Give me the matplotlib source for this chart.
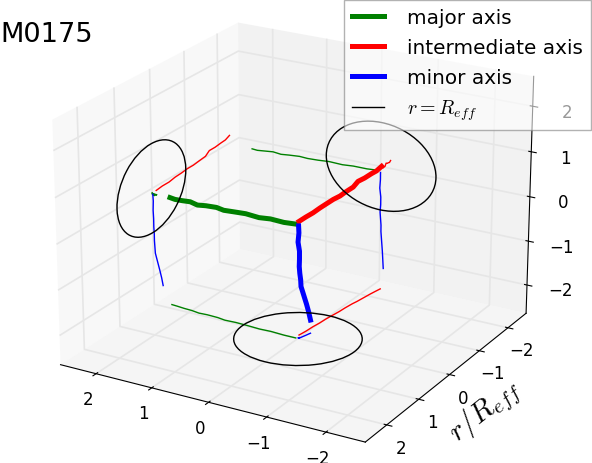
import matplotlib
matplotlib.use("Agg")
import matplotlib.pyplot as plt
from matplotlib.patches import Circle
from mpl_toolkits.mplot3d import art3d

plt.rcParams['mathtext.fontset'] = 'cm'
plt.rcParams['grid.color'] = '#e6e6e6'
plt.rcParams['grid.linewidth'] = 1.2

LIM = 2.65
R_EFF = 1.0
TICKS = [-2, -1, 0, 1, 2]

# major axis profile
major_x = [0.04, 0.25, 0.5, 0.7, 0.95, 1.15, 1.35, 1.5, 1.7, 1.85, 2.0, 2.15, 2.3, 2.4]
major_y = [0.0, 0.0, -0.02, -0.01, -0.03, -0.04, -0.03, -0.06, -0.07, -0.06, -0.09, -0.1, -0.12, -0.13]
major_z = [-0.1, -0.12, -0.12, -0.14, -0.13, -0.15, -0.16, -0.15, -0.17, -0.19, -0.17, -0.19, -0.21, -0.2]

# intermediate axis profile
inter_x = [0.05, 0.03, 0.02, 0.0, -0.01, -0.03, -0.05, -0.06, -0.08, -0.1, -0.12, -0.14, -0.16, -0.18]
inter_y = [-0.12, -0.3, -0.5, -0.68, -0.87, -1.05, -1.23, -1.4, -1.6, -1.72, -1.9, -2.08, -2.22, -2.35]
inter_z = [-0.1, -0.08, -0.08, -0.05, -0.04, -0.02, -0.02, 0.0, 0.02, 0.1, 0.1, 0.12, 0.13, 0.18]

# minor axis profile
minor_x = [0.0, 0.0, 0.01, -0.01, -0.01, 0.0, -0.01, -0.02, -0.02, -0.03, -0.04, -0.05, -0.06, -0.07]
minor_y = [-0.02, -0.03, -0.02, -0.03, -0.03, -0.04, -0.04, -0.05, -0.06, -0.1, -0.14, -0.18, -0.23, -0.27]
minor_z = [-0.14, -0.3, -0.5, -0.7, -0.88, -1.05, -1.2, -1.35, -1.5, -1.65, -1.8, -1.95, -2.15, -2.35]

profiles = [
    (major_x, major_y, major_z, 'green', 'major axis'),
    (inter_x, inter_y, inter_z, 'red', 'intermediate axis'),
    (minor_x, minor_y, minor_z, 'blue', 'minor axis'),
]

fig = plt.figure(figsize=(5.92, 4.64), dpi=100)
ax = fig.add_axes([-0.069, -0.072, 1.12, 1.16], projection='3d')
ax.view_init(elev=22, azim=120)
ax.set_box_aspect((4, 4, 3.0), zoom=1.0)

for xs, ys, zs, color, label in profiles:
    ax.plot(xs, ys, zs, color=color, lw=3.6, label=label)
    # projections on the walls
    ax.plot(xs, ys, [-LIM] * len(xs), color=color, lw=1)
    ax.plot(xs, [-LIM] * len(xs), zs, color=color, lw=1)
    ax.plot([LIM] * len(xs), ys, zs, color=color, lw=1)

# r = R_eff circles on the walls
for zdir, pos in [('z', -LIM), ('y', -LIM), ('x', LIM)]:
    circ = Circle((0, 0), R_EFF, fill=False, ec='black', lw=1)
    ax.add_patch(circ)
    art3d.pathpatch_2d_to_3d(circ, z=pos, zdir=zdir)
ax.plot([], [], [], color='black', lw=1, label=r'$r=R_{eff}$')

ax.set_xlim(-LIM, LIM)
ax.set_ylim(-LIM, LIM)
ax.set_zlim(-LIM, LIM)
ax.set_xticks(TICKS)
ax.set_yticks(TICKS)
ax.set_zticks(TICKS)
ax.tick_params(labelsize=12)
ax.tick_params(axis='x', pad=1)
ax.tick_params(axis='y', pad=1)
ax.tick_params(axis='z', pad=7)
ax.set_ylabel(r'$r/R_{eff}$', fontsize=21, labelpad=2)
for axis in (ax.xaxis, ax.yaxis, ax.zaxis):
    axis.pane.set_edgecolor('none')

fig.text(0.0, 0.925, 'M0175', fontsize=19.6, ha='left', va='center')
leg = fig.legend(loc='upper right', bbox_to_anchor=(0.9975, 0.9985), fontsize=14.4,
                 fancybox=False, framealpha=0.6, edgecolor='gray', borderaxespad=0,
                 handlelength=1.6, handletextpad=1.15, borderpad=0.4, labelspacing=0.55)

fig.savefig('out.png', dpi=100)
